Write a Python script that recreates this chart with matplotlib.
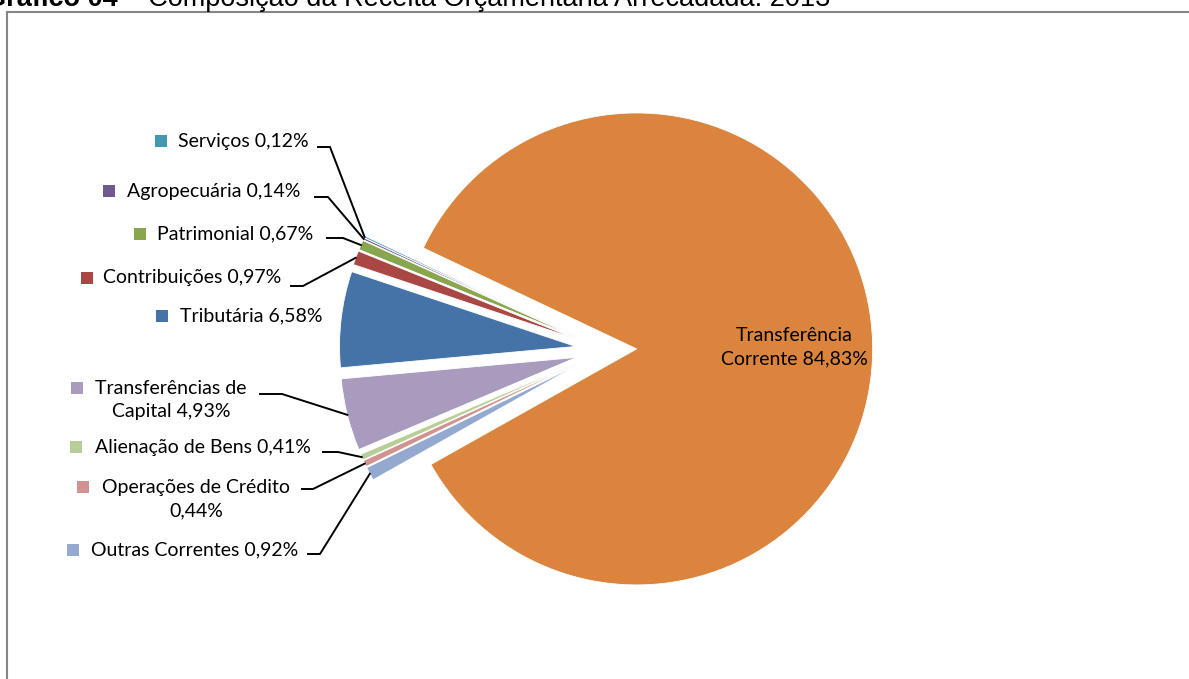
import matplotlib
matplotlib.use('Agg')
import matplotlib.pyplot as plt
import numpy as np
from matplotlib.lines import Line2D
from matplotlib.patches import Rectangle

# ---------------- data ----------------
categories = ['Tributária', 'Contribuições', 'Patrimonial', 'Agropecuária', 'Serviços',
              'Transferência Corrente', 'Outras Correntes', 'Operações de Crédito',
              'Alienação de Bens', 'Transferências de Capital']
values = [6.58, 0.97, 0.67, 0.14, 0.12, 84.83, 0.92, 0.44, 0.41, 4.93]
colors = ['#4572A7', '#AA4643', '#89A54E', '#71588F', '#4198AF',
          '#DB843D', '#93A9CF', '#D19392', '#B9CD96', '#A99BBD']
title_bold = 'Gráfico 04'
title_rest = ' – Composição da Receita Orçamentária Arrecadada: 2013'

W, H = 1189, 679
FONT = 'Lato'
FS = 14
LS = 1.45

def pct(v):
    return f'{v:.2f}'.replace('.', ',') + '%'

fig = plt.figure(figsize=(W / 100, H / 100), dpi=100)
ax = fig.add_axes([0, 0, 1, 1])

cx, cy, R = 606, H - 350, 236
wedges, _ = ax.pie(values, colors=colors, startangle=185.2, counterclock=False,
                   explode=[0.13 * R] * len(values), radius=R, center=(cx, cy),
                   wedgeprops=dict(edgecolor='white', linewidth=0.6), frame=True)
ax.set_xlim(0, W)
ax.set_ylim(0, H)
ax.axis('off')

# label layout: (index, lines, marker_x, text_x, text_y, ha, leader(x0, x1, y) or None)
layout = [
    (4, [f'{categories[4]} {pct(values[4])}'], 161, 178, 141, 'left', (318, 330, 147)),
    (3, [f'{categories[3]} {pct(values[3])}'], 109, 127, 191, 'left', (315, 328, 197)),
    (2, [f'{categories[2]} {pct(values[2])}'], 140, 157, 234, 'left', (327, 343, 238)),
    (1, [f'{categories[1]} {pct(values[1])}'], 87, 103, 278, 'left', (291, 303, 286)),
    (0, [f'{categories[0]} {pct(values[0])}'], 162, 180, 316, 'left', None),
    (9, ['Transferências de', f'Capital {pct(values[9])}'], 77, 171, 400, 'center', (260, 282, 394)),
    (8, [f'{categories[8]} {pct(values[8])}'], 76, 95, 447, 'left', (323, 338, 452)),
    (7, ['Operações de Crédito', pct(values[7])], 83, 196, 499.5, 'center', (302, 313, 489)),
    (6, [f'{categories[6]} {pct(values[6])}'], 73, 91, 550, 'left', (308, 320, 554)),
]

gap = 24.5
for idx, lines, mx, tx, ty, ha, leader in layout:
    col = colors[idx]
    n = len(lines)
    first_y = ty - (n - 1) * gap / 2
    ax.add_patch(Rectangle((mx - 6, H - first_y - 6), 12, 12, facecolor=col, edgecolor='none'))
    ax.text(tx, H - ty, '\n'.join(lines), ha=ha, va='center', multialignment='center',
            fontsize=FS, family=FONT, color='#000000', linespacing=LS)
    if leader is not None:
        w = wedges[idx]
        mid = np.deg2rad((w.theta1 + w.theta2) / 2)
        px = w.center[0] + w.r * np.cos(mid)
        py = w.center[1] + w.r * np.sin(mid)
        x0, x1, ly = leader
        ax.add_line(Line2D([x0, x1, px], [H - ly, H - ly, py], color='black', lw=1.4,
                           solid_joinstyle='miter'))

# main slice label
ax.text(794, H - 347.5, 'Transferência\nCorrente ' + pct(values[5]), ha='center', va='center',
        multialignment='center', fontsize=FS, family=FONT, color='#000000', linespacing=LS)

# chart area border (top and left)
ax.add_line(Line2D([7, W], [H - 12, H - 12], color='#868686', lw=1.5))
ax.add_line(Line2D([7, 7], [H - 12, 0], color='#868686', lw=1.5))

# clipped title at top
TFS = 19.5
t1 = fig.text(-15 / W, (H - 6) / H, title_bold, fontsize=TFS, fontweight='bold',
              family='Liberation Sans', va='baseline', ha='left')
fig.canvas.draw()
bb = t1.get_window_extent()
fig.text(bb.x1 / W, (H - 6) / H, title_rest, fontsize=TFS, family='Liberation Sans',
         va='baseline', ha='left')

fig.savefig('out.png', dpi=100)
